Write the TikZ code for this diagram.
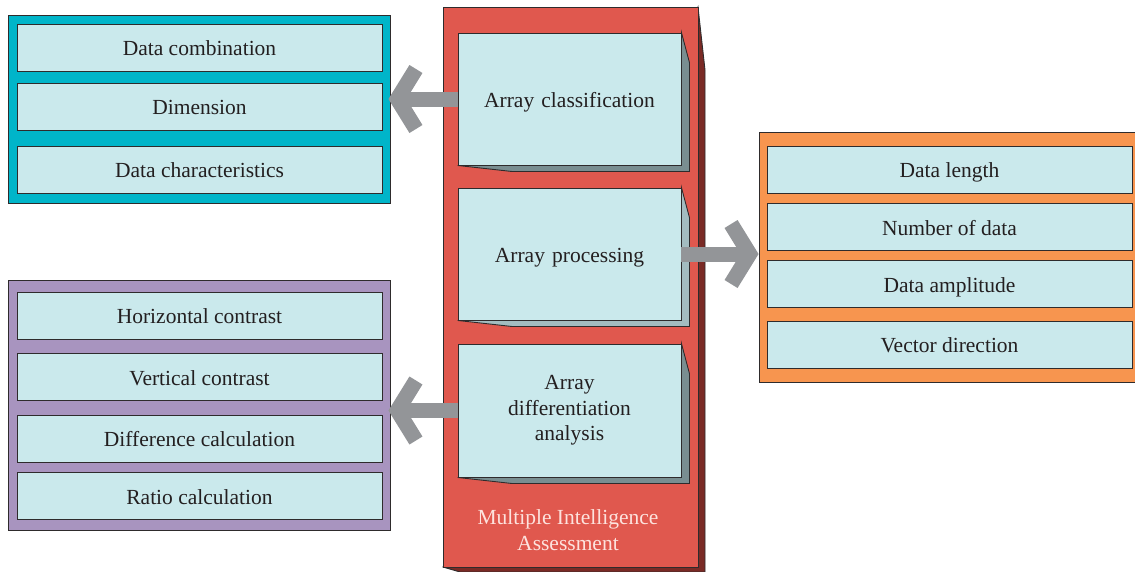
\documentclass[tikz,border=0pt]{standalone}
\usepackage{fontspec}
\setmainfont{Liberation Serif}
\usetikzlibrary{calc}
\definecolor{redc}{HTML}{E0584E}
\definecolor{redside}{HTML}{7A2A25}
\definecolor{cyanc}{HTML}{00B5C9}
\definecolor{orangec}{HTML}{F7954F}
\definecolor{purplec}{HTML}{A894BF}
\definecolor{itemc}{HTML}{CAE9EC}
\definecolor{sidedark}{HTML}{798E91}
\definecolor{sidelight}{HTML}{A3BCC0}
\definecolor{arrowgray}{HTML}{939598}
\definecolor{inkc}{HTML}{231F20}
\definecolor{edgec}{HTML}{2E2B2C}
\definecolor{titlec}{HTML}{FDE3DE}
\tikzset{
  panel/.style={draw=edgec, line width=0.9pt, inner sep=0pt},
  item/.style={draw=edgec, line width=0.9pt, fill=itemc, text=inkc, inner sep=0pt,
    minimum width=365pt, minimum height=47pt, text height=18pt, text depth=2pt,
    font=\fontsize{21.5}{25}\selectfont},
  stage/.style={draw=edgec, line width=0.9pt, fill=itemc, text=inkc, inner sep=0pt,
    minimum width=223pt, text width=210pt, align=center,
    font=\fontsize{21.5}{25.5}\selectfont},
  oneline/.style={text height=18pt, text depth=2pt},
  sideface/.style={draw=edgec, line width=0.9pt, line join=miter},
  shaft/.style={draw=arrowgray, line width=15pt},
  chevron/.pic={\fill[arrowgray] (0,0) -- (-21,34) -- (-34,26) -- (-18,0)
     -- (-34,-26) -- (-21,-34) -- cycle;}
}
\begin{document}
\begin{tikzpicture}[x=1pt,y=-1pt]
\useasboundingbox (0,0) rectangle (1135,571);
\fill[white] (0,0) rectangle (1135,571);

% central column
\fill[redside, draw=edgec, line width=0.9pt] (698,7) -- (705,70) -- (705,572) -- (460,572) -- (443,567) -- cycle;
\node[panel, fill=redc, minimum width=255pt, minimum height=560pt] (mia) at (570.5,287) {};
\node[text=titlec, align=center, font=\fontsize{21.5}{26}\selectfont] (miat) at (568,530)
  {Multiple Intelligence\\Assessment};

% stage boxes with their extruded faces
\node[stage, oneline, minimum height=132pt] (s1) at (569.5,99) {Array classification};
\node[stage, oneline, minimum height=132pt] (s2) at (569.5,254) {Array processing};
\node[stage, minimum height=133pt] (s3) at (569.5,410.5) {Array\\differentiation\\analysis};
\foreach \s/\c in {s1/sidedark, s2/sidelight, s3/sidedark}{
  \filldraw[sideface, fill=\c] (\s.north east) -- ++(8,30) -- ($(\s.south east)+(8,6)$)
    -- ($(\s.south west)+(54,6)$) -- (\s.south west) -- (\s.south east) -- cycle;
}

% left top group
\node[panel, fill=cyanc, minimum width=382pt, minimum height=188pt] (cy) at (199,109) {};
\node[item] (c1) at (199.5,47.5) {Data combination};
\node[item] (c2) at (199.5,106.5) {Dimension};
\node[item] (c3) at (199.5,169.5) {Data characteristics};

% left bottom group
\node[panel, fill=purplec, minimum width=382pt, minimum height=250pt] (pu) at (199,405) {};
\node[item] (p1) at (199.5,315.5) {Horizontal contrast};
\node[item] (p2) at (199.5,377) {Vertical contrast};
\node[item] (p3) at (199.5,438.5) {Difference calculation};
\node[item] (p4) at (199.5,496) {Ratio calculation};

% right group
\node[panel, fill=orangec, minimum width=381pt, minimum height=250pt] (or) at (949.5,257) {};
\node[item] (o1) at (949.5,169.5) {Data length};
\node[item] (o2) at (949.5,227) {Number of data};
\node[item] (o3) at (949.5,284) {Data amplitude};
\node[item] (o4) at (949.5,344.5) {Vector direction};

% connectors
\coordinate (t1) at (cy.east |- s1.west);
\coordinate (t2) at (or.west |- s2.east);
\coordinate (t3) at (pu.east |- s3.west);
\draw[shaft] (s1.west) -- ($(t1)+(16,0)$);
\pic[rotate=180] at ($(t1)+(-2,0)$) {chevron};
\draw[shaft] (s2.east) -- ($(t2)+(-16,0)$);
\pic at (t2) {chevron};
\draw[shaft] (s3.west) -- ($(t3)+(16,0)$);
\pic[rotate=180] at ($(t3)+(-2,0)$) {chevron};
\end{tikzpicture}
\end{document}
